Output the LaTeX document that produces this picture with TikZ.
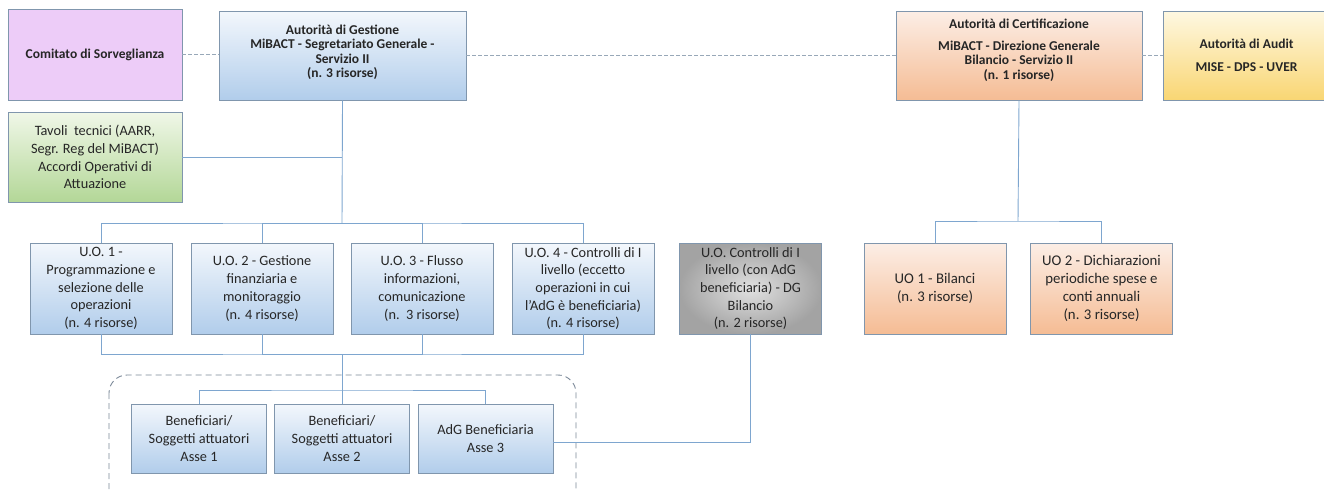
\documentclass[tikz,border=0pt]{standalone}
\usepackage{fontspec}
\setmainfont{Carlito}
\usetikzlibrary{calc}
\definecolor{blueT}{HTML}{F3F7FC}
\definecolor{blueB}{HTML}{B1CDEB}
\definecolor{orT}{HTML}{FCEEE6}
\definecolor{orB}{HTML}{F5BC94}
\definecolor{yeT}{HTML}{FEF8E2}
\definecolor{yeB}{HTML}{F9D673}
\definecolor{grT}{HTML}{F0F7E8}
\definecolor{grB}{HTML}{B3D797}
\definecolor{vio}{HTML}{EDCCF8}
\definecolor{boxline}{HTML}{8096AD}
\definecolor{conn}{HTML}{7EA6CF}
\definecolor{dashc}{HTML}{98A8B8}
\definecolor{dashbox}{HTML}{7A8797}
\definecolor{txt}{HTML}{262626}
\tikzset{
  box/.style={draw=boxline, line width=0.9pt, inner sep=2pt, align=center, text=txt},
  topfont/.style={font=\fontsize{13.5}{14.5}\selectfont\bfseries},
  midfont/.style={font=\fontsize{14.3}{17.7}\selectfont},
  bluebox/.style={box, top color=blueT, bottom color=blueB, midfont},
  orbox/.style={box, top color=orT, bottom color=orB},
  yebox/.style={box, top color=yeT, bottom color=yeB},
  grbox/.style={box, top color=grT, bottom color=grB, midfont},
  viobox/.style={box, fill=vio},
  graybox/.style={box, shading=radial, inner color=white!88!black, outer color=black!36, midfont},
  uo/.style={minimum width=142pt, minimum height=91pt},
  ben/.style={minimum width=135pt, minimum height=69pt},
  link/.style={draw=conn, line width=0.9pt},
  dotlink/.style={draw=dashc, line width=0.9pt, dash pattern=on 3.5pt off 2.5pt},
}
\begin{document}
\begin{tikzpicture}[x=1pt,y=-1pt]
\useasboundingbox (0,0) rectangle (1324,490);
\clip (0,0) rectangle (1324,490);

% top row
\node[viobox, topfont, minimum width=174pt, minimum height=91pt] (com) at (95,54.5) {Comitato di Sorveglianza};
\node[bluebox, topfont, minimum width=247pt, minimum height=89pt] (adg) at (342.5,55.5)
  {Autorità di Gestione\\MiBACT - Segretariato Generale -\\Servizio II\\(n. 3 risorse)\\[-6pt]\mbox{}};
\node[orbox, topfont, minimum width=246pt, minimum height=89pt] (cert) at (1019,55.5)
  {Autorità di Certificazione\\[7pt]MiBACT - Direzione Generale\\Bilancio - Servizio II\\(n. 1 risorse)\\[-2pt]\mbox{}};
\node[yebox, topfont, minimum width=167pt, minimum height=89pt] (aud) at (1246.5,55.5)
  {Autorità di Audit\\[8pt]MISE - DPS - UVER};
\node[grbox, minimum width=174pt, minimum height=90pt] (tav) at (95,157)
  {Tavoli\ \ tecnici (AARR,\\Segr. Reg del MiBACT)\\Accordi Operativi di\\Attuazione};

% UO row
\node[bluebox, uo] (uo1) at (101,288.5) {U.O. 1 -\\Programmazione e\\selezione delle\\operazioni\\(n. 4 risorse)};
\node[bluebox, uo] (uo2) at (262,288.5) {U.O. 2 - Gestione\\finanziaria e\\monitoraggio\\(n. 4 risorse)};
\node[bluebox, uo] (uo3) at (422,288.5) {U.O. 3 - Flusso\\informazioni,\\comunicazione\\(n.\ \ 3 risorse)};
\node[bluebox, uo] (uo4) at (583,288.5) {U.O. 4 - Controlli di I\\livello (eccetto\\operazioni in cui\\l'AdG è beneficiaria)\\(n. 4 risorse)};
\node[graybox, uo] (gray) at (750.5,288.5) {U.O. Controlli di I\\livello (con AdG\\beneficiaria) - DG\\Bilancio\\(n. 2 risorse)};
\node[orbox, uo, font=\fontsize{14.8}{18}\selectfont] (b1) at (935,288.5) {UO 1 - Bilanci\\(n. 3 risorse)};
\node[orbox, uo, font=\fontsize{14.8}{18}\selectfont] (b2) at (1101.5,288.5) {UO 2 - Dichiarazioni\\periodiche spese e\\conti annuali\\(n. 3 risorse)};

% beneficiari
\node[bluebox, ben] (ben1) at (199,438.5) {Beneficiari/\\Soggetti attuatori\\Asse 1};
\node[bluebox, ben] (ben2) at (342,438.5) {Beneficiari/\\Soggetti attuatori\\Asse 2};
\node[bluebox, ben] (ben3) at (485.5,438.5) {AdG Beneficiaria\\Asse 3};

% dashed group frame
\draw[dashbox, line width=0.9pt, dash pattern=on 6pt off 4pt, rounded corners=18pt] (109,375) rectangle (576,520);

% bus points
\coordinate (busA) at (342,223);
\coordinate (busB) at (342,354);
\coordinate (busC) at (342,390);
\coordinate (busD) at (1018,221);

% dotted links
\path[dotlink] (com.east) -- (com.east -| adg.west);
\path[dotlink] (adg.east) -- (cert.west);
\path[dotlink] (cert.east) -- (aud.west);

% solid links
\path[link] (adg.south) -- (busA);
\path[link] (tav.east) -- (tav.east -| busA);
\path[link] (uo1.north) |- (busA) -| (uo4.north);
\path[link] (uo2.north) |- (busA);
\path[link] (uo3.north) |- (busA);
\path[link] (uo1.south) |- (busB) -| (uo4.south);
\path[link] (uo2.south) |- (busB);
\path[link] (uo3.south) |- (busB);
\path[link] (busB) -- (ben2.north);
\path[link] (ben1.north) |- (busC) -| (ben3.north);
\path[link] ([yshift=-3.5pt]ben3.east) -| (gray.south);
\path[link] (cert.south) -- (busD);
\path[link] (b1.north) |- (busD) -| (b2.north);
\end{tikzpicture}
\end{document}
